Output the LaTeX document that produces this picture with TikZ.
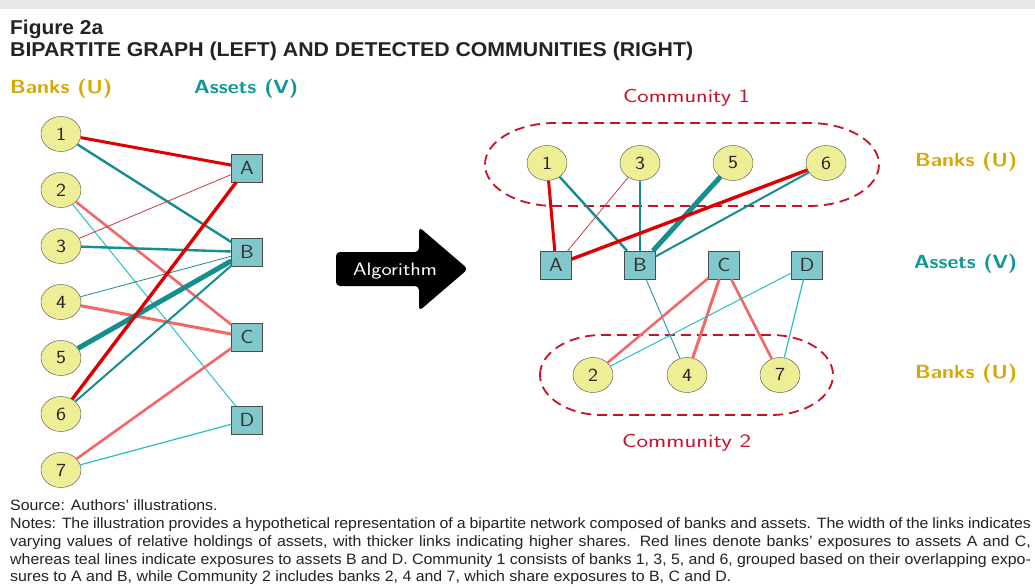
\documentclass[tikz,border=0pt]{standalone}
\usepackage{fontspec}
\setmainfont{Liberation Sans}
\usetikzlibrary{shapes.geometric}
\definecolor{bankfill}{RGB}{238,238,150}
\definecolor{assetfill}{RGB}{128,200,204}
\definecolor{gold}{RGB}{214,168,0}
\definecolor{tealtxt}{RGB}{16,150,150}
\definecolor{commred}{RGB}{204,16,40}
\definecolor{redE}{RGB}{222,0,0}
\definecolor{redthin}{RGB}{200,60,70}
\definecolor{salmon}{RGB}{242,104,104}
\definecolor{tealD}{RGB}{20,142,142}
\definecolor{tealL}{RGB}{40,192,196}
\definecolor{bandgray}{RGB}{232,232,232}
\definecolor{txt}{RGB}{35,35,35}
\newcommand\fitw[2]{\resizebox{#1}{\height}{#2}}
\newcommand\sx[1]{\scalebox{1.15}[1]{#1}}
% #1 cx, #2 cy, #3 half width, #4 half height, #5 corner x radius
\newcommand\commcurve[5]{%
  \draw[comm] ({#1-#3},#2) .. controls ({#1-#3},{#2-0.552*#4}) and ({#1-#3+0.448*#5},{#2-#4}) .. ({#1-#3+#5},{#2-#4})
   -- ({#1+#3-#5},{#2-#4})
   .. controls ({#1+#3-0.448*#5},{#2-#4}) and ({#1+#3},{#2-0.552*#4}) .. ({#1+#3},#2)
   .. controls ({#1+#3},{#2+0.552*#4}) and ({#1+#3-0.448*#5},{#2+#4}) .. ({#1+#3-#5},{#2+#4})
   -- ({#1-#3+#5},{#2+#4})
   .. controls ({#1-#3+0.448*#5},{#2+#4}) and ({#1-#3},{#2+0.552*#4}) .. cycle;}
\begin{document}
\begin{tikzpicture}[x=1pt,y=-1pt,
  bank/.style={ellipse, draw=black!70, fill=bankfill, minimum width=40pt, minimum height=35pt, inner sep=0pt, font=\sffamily\fontsize{18.5}{18.5}\selectfont, text=black!85},
  asset/.style={rectangle, draw=black!70, fill=assetfill, minimum width=31pt, minimum height=28pt, inner sep=0pt, font=\sffamily\fontsize{19}{19}\selectfont, text=black!80},
  lab/.style={anchor=base west, inner sep=0pt, font=\sffamily\bfseries\fontsize{19}{19}\selectfont},
  comm/.style={draw=commred, line width=1.8pt, dash pattern=on 10pt off 6pt},
  commlab/.style={anchor=base, inner sep=0pt, font=\sffamily\fontsize{19}{19}\selectfont, text=commred},
  noteline/.style={anchor=base west, inner sep=0pt, font=\fontsize{15}{18}\selectfont, text=txt},
  title/.style={anchor=base west, inner sep=0pt, font=\bfseries\fontsize{20}{20}\selectfont, text=txt}]
\useasboundingbox (0,0) rectangle (1035,586);
\fill[white] (0,0) rectangle (1035,586);
\fill[bandgray] (0,0) rectangle (1035,9);
% titles
\node[title] (t1) at (10,34.3) {\fitw{93pt}{Figure 2a}};
\node[title] (t2) at (10,56.7) {\fitw{683pt}{BIPARTITE GRAPH (LEFT) AND DETECTED COMMUNITIES (RIGHT)}};
% left labels
\node[lab, text=gold] (lbU) at (10,93.3) {\fitw{102pt}{Banks (U)}};
\node[lab, text=tealtxt] (lbV) at (194,93.3) {\fitw{104pt}{Assets (V)}};
% left nodes
\node[bank] (l1) at (61,134) {\sx{1}};
\node[bank] (l2) at (61,190) {\sx{2}};
\node[bank] (l3) at (61,246) {\sx{3}};
\node[bank] (l4) at (61,302) {\sx{4}};
\node[bank] (l5) at (61,358) {\sx{5}};
\node[bank] (l6) at (61,414) {\sx{6}};
\node[bank] (l7) at (61,470) {\sx{7}};
\node[asset] (lA) at (247,168) {\sx{A}};
\node[asset] (lB) at (247,252) {\sx{B}};
\node[asset] (lC) at (247,337) {\sx{C}};
\node[asset] (lD) at (247,420) {\sx{D}};
% left edges
\draw[redE, line width=3pt] (l1) -- (lA);
\draw[tealD, line width=2.4pt] (l1) -- (lB);
\draw[salmon, line width=2.6pt] (l2) -- (lC);
\draw[tealL, line width=1pt] (l2) -- (lD);
\draw[redthin, line width=0.8pt] (l3) -- (lA);
\draw[tealD, line width=2.4pt] (l3) -- (lB);
\draw[tealD, line width=0.8pt] (l4) -- (lB);
\draw[salmon, line width=3pt] (l4) -- (lC);
\draw[tealD, line width=5pt] (l5) -- (lB);
\draw[redE, line width=3.4pt] (l6) -- (lA);
\draw[tealD, line width=2pt] (l6) -- (lB);
\draw[salmon, line width=2.6pt] (l7) -- (lC);
\draw[tealL, line width=1.2pt] (l7) -- (lD);
% arrow
\fill[black, rounded corners=4pt] (336,252) -- (419,252) -- (419,227) -- (468,269) -- (419,311) -- (419,286) -- (336,286) -- cycle;
\node[inner sep=0pt, anchor=base, font=\sffamily\fontsize{18}{18}\selectfont, text=white] (alg) at (395,275.5) {\fitw{84pt}{Algorithm}};
% right: communities
\commcurve{682}{164.5}{197}{41.5}{70}
\commcurve{686.5}{375}{146.5}{40}{62}
\node[commlab] (c1) at (686.5,102) {\fitw{127pt}{Community 1}};
\node[commlab] (c2) at (686.5,447) {\fitw{129pt}{Community 2}};
\node[lab, text=gold] (rbU1) at (915,166.7) {\fitw{102pt}{Banks (U)}};
\node[lab, text=tealtxt] (rbV) at (914,268.3) {\fitw{103pt}{Assets (V)}};
\node[lab, text=gold] (rbU2) at (915,378) {\fitw{102pt}{Banks (U)}};
% right nodes
\node[bank] (r1) at (547,163) {\sx{1}};
\node[bank] (r3) at (640,163) {\sx{3}};
\node[bank] (r5) at (733,163) {\sx{5}};
\node[bank] (r6) at (826,163) {\sx{6}};
\node[asset] (rA) at (556,265) {\sx{A}};
\node[asset] (rB) at (640,265) {\sx{B}};
\node[asset] (rC) at (724,265) {\sx{C}};
\node[asset] (rD) at (807,265) {\sx{D}};
\node[bank] (r2) at (593,375) {\sx{2}};
\node[bank] (r4) at (687,375) {\sx{4}};
\node[bank] (r7) at (780,375) {\sx{7}};
% right edges
\draw[redE, line width=3pt] (r1) -- (rA);
\draw[tealD, line width=2.4pt] (r1) -- (rB);
\draw[redthin, line width=0.8pt] (r3) -- (rA);
\draw[tealD, line width=2.4pt] (r3) -- (rB);
\draw[tealD, line width=5pt] (r5) -- (rB);
\draw[redE, line width=3.4pt] (r6) -- (rA);
\draw[tealD, line width=2pt] (r6) -- (rB);
\draw[tealD, line width=0.8pt] (rB) -- (r4);
\draw[salmon, line width=2.6pt] (rC) -- (r2);
\draw[salmon, line width=3pt] (rC) -- (r4);
\draw[salmon, line width=2.6pt] (rC) -- (r7);
\draw[tealL, line width=1pt] (rD) -- (r2);
\draw[tealL, line width=1.2pt] (rD) -- (r7);
% notes
\node[noteline] (n0) at (10,510.7) {\scalebox{1.06}[1]{Source: Authors’ illustrations.}};
\node[noteline] (n1) at (10,528.5) {\scalebox{1.06}[1]{\makebox[963pt][s]{Notes: The illustration provides a hypothetical representation of a bipartite network composed of banks and assets. The width of the links indicates}}};
\node[noteline] (n2) at (10,546.3) {\scalebox{1.06}[1]{\makebox[963pt][s]{varying values of relative holdings of assets, with thicker links indicating higher shares. Red lines denote banks’ exposures to assets A and C,}}};
\node[noteline] (n3) at (10,564.1) {\scalebox{1.06}[1]{\makebox[963pt][s]{whereas teal lines indicate exposures to assets B and D. Community 1 consists of banks 1, 3, 5, and 6, grouped based on their overlapping expo-}}};
\node[noteline] (n4) at (10,581.9) {\scalebox{1.06}[1]{sures to A and B, while Community 2 includes banks 2, 4 and 7, which share exposures to B, C and D.}};
\end{tikzpicture}
\end{document}
